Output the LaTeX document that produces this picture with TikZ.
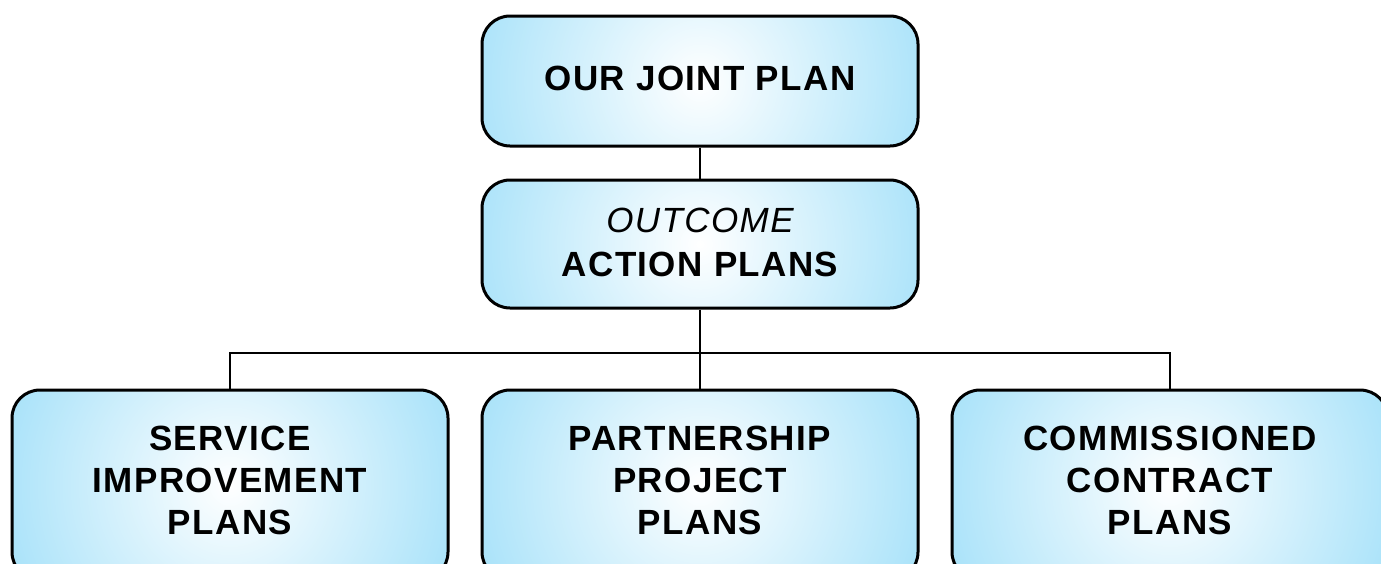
\documentclass[tikz,border=0pt]{standalone}
\usepackage{fontspec}
\setmainfont{Liberation Sans}[LetterSpace=4]
\definecolor{boxblue}{RGB}{108,206,245}
\pgfdeclareradialshading{boxshade}{\pgfpoint{0bp}{0bp}}{color(0bp)=(white); color(44bp)=(boxblue); color(50bp)=(boxblue)}
\tikzset{
  planbox/.style={draw=black, line width=3pt, rounded corners=28pt,
    minimum width=436pt, inner sep=0pt,
    path picture={\shade[shading=boxshade] (path picture bounding box.center) circle (228pt);}},
  boxtext/.style={inner sep=0pt, align=center, font=\fontsize{35}{42}\selectfont\bfseries},
  conn/.style={draw=black, line width=2pt}
}
\begin{document}
\begin{tikzpicture}[x=1pt,y=-1pt]
\useasboundingbox (0,0) rectangle (1381,563);
\clip (0,0) rectangle (1381,563);
\node[planbox, minimum height=130pt] (top) at (700,81) {};
\node[planbox, minimum height=128pt] (mid) at (700,244) {};
\node[planbox, minimum height=190pt] (sip) at (230,485) {};
\node[planbox, minimum height=190pt] (ppp) at (700,485) {};
\node[planbox, minimum height=190pt] (ccp) at (1170,485) {};
\node[boxtext] (toptext) at ([yshift=3pt]top.center) {OUR JOINT PLAN};
\node[boxtext] (midtext) at ([yshift=2pt]mid.center) {{\mdseries\itshape OUTCOME}\\[2pt]ACTION PLANS};
\node[boxtext] (siptext) at ([yshift=5pt]sip.center) {SERVICE\\IMPROVEMENT\\PLANS};
\node[boxtext] (ppptext) at ([yshift=5pt]ppp.center) {PARTNERSHIP\\PROJECT\\PLANS};
\node[boxtext] (ccptext) at ([yshift=5pt]ccp.center) {COMMISSIONED\\CONTRACT\\PLANS};
\coordinate (j) at (700,353);
\draw[conn] (top.south) -- (mid.north);
\draw[conn] (mid.south) -- (j);
\draw[conn] (j) -| (sip.north);
\draw[conn] (j) -- (ppp.north);
\draw[conn] (j) -| (ccp.north);
\end{tikzpicture}
\end{document}
